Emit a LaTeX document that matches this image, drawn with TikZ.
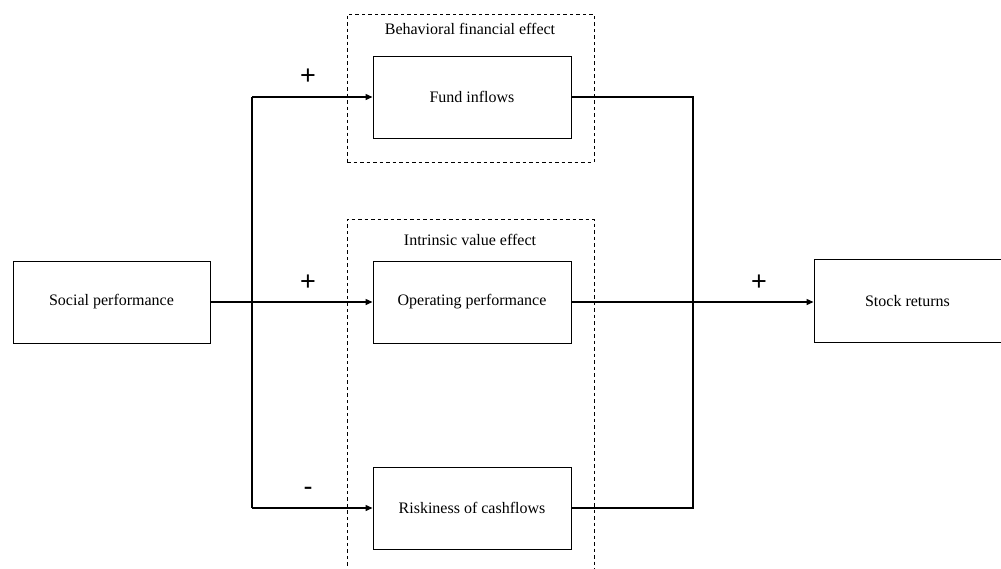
\documentclass[tikz,border=0pt]{standalone}
\usepackage{fontspec}
\setmainfont{Liberation Serif}
\newfontfamily\signfont{Liberation Sans}
\usetikzlibrary{arrows.meta}
\begin{document}
\begin{tikzpicture}[x=1pt,y=-1pt,
  box/.style={draw, line width=1pt, minimum width=198pt, minimum height=82pt, inner sep=0pt, font=\fontsize{16}{18}\selectfont},
  grp/.style={draw, line width=0.9pt, dash pattern=on 3.5pt off 3pt},
  conn/.style={line width=1.4pt},
  arr/.style={conn, -{Triangle[length=7pt,width=6pt]}},
  sign/.style={font=\signfont\fontsize{27}{29}\selectfont, inner sep=0pt},
  ttl/.style={font=\fontsize{16}{18}\selectfont, inner sep=0pt}]
\useasboundingbox[fill=white] (0,0) rectangle (1001,568);
% groups
\node[grp, minimum width=247pt, minimum height=148pt, inner sep=0pt] (g1) at (470.5,88) {};
\draw[grp] (347,572) -- (347,219) -- (594,219) -- (594,572);
\node[ttl] (t1) at (470,29) {Behavioral financial effect};
\node[ttl] (t2) at (470,240) {Intrinsic value effect};
% boxes
\node[box] (fund) at (472,97) {Fund inflows};
\node[box] (oper) at (472,302) {Operating performance};
\node[box] (risk) at (472,508) {Riskiness of cashflows};
\node[box, minimum width=197pt] (soc) at (111.5,302) {Social performance};
\node[box, minimum width=187pt, minimum height=83pt] (stock) at (907.5,301) {Stock returns};
% coordinates
\coordinate (lt) at (252,97);
\coordinate (lb) at (252,508);
\coordinate (rt) at (693,97);
\coordinate (rb) at (693,508);
% connectors
\draw[conn] (lt) -- (lb);
\draw[arr] (lt) -- (fund.west);
\draw[arr] (lb) -- (risk.west);
\draw[arr] (soc.east) -- (oper.west);
\draw[conn] (fund.east) -- (rt) -- (rb) -- (risk.east);
\draw[arr] (oper.east) -- (oper.east -| stock.west);
% signs
\node[sign] (s1) at (308,77) {+};
\node[sign] (s2) at (308,283) {+};
\node[sign] (s3) at (308,491) {-};
\node[sign] (s4) at (759,283) {+};
\end{tikzpicture}
\end{document}
